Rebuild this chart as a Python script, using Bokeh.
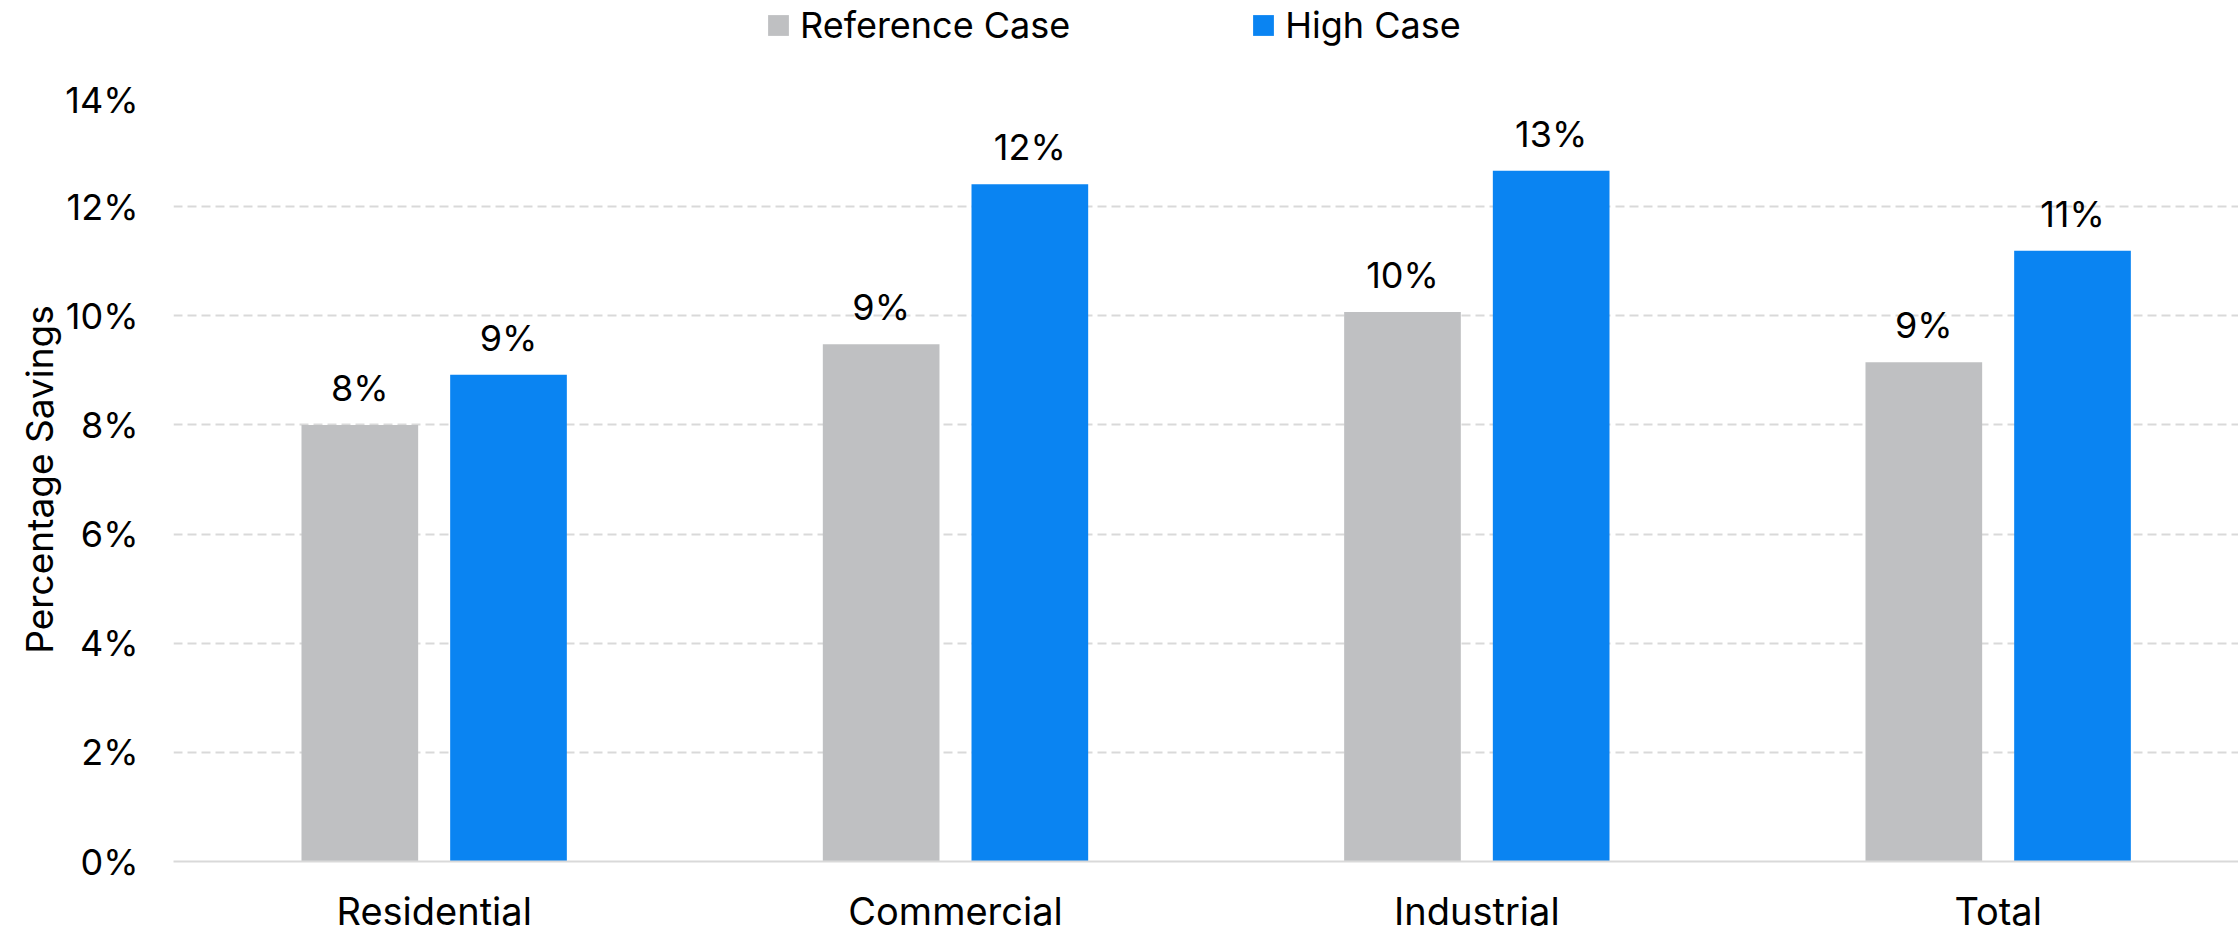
from bokeh.plotting import figure
from bokeh.layouts import column
from bokeh.models import (Range1d, FixedTicker, PrintfTickFormatter, ColumnDataSource,
                          Legend, LegendItem, LabelSet)
from bokeh.embed import file_html
from bokeh.resources import INLINE
from bokeh.core.properties import value

# ---- data ----
categories = ["Residential", "Commercial", "Industrial", "Total"]
series_names = ["Reference Case", "High Case"]
reference_case = [8.0, 9.48, 10.07, 9.15]
high_case = [8.92, 12.41, 12.66, 11.19]
y_ticks = [0, 2, 4, 6, 8, 10, 12, 14]

FONT = "Inter"
FS = "36px"
FS_CAT = "38px"
GRAY = "#BFC0C2"
BLUE = "#0A84F2"
GRID = "#D9D9D9"

centers = [i + 0.5 for i in range(len(categories))]
offset = 0.1426
bar_w = 0.2238

# ---- main chart ----
p = figure(width=2238, height=859, output_backend="svg", toolbar_location=None,
           x_range=Range1d(0, 3.961), y_range=Range1d(0, 14),
           min_border_left=173, min_border_right=0, min_border_top=20,
           min_border_bottom=69)
p.background_fill_color = "white"
p.border_fill_color = "white"
p.outline_line_color = None

src_ref = ColumnDataSource(dict(x=[c - offset for c in centers], top=reference_case,
                                label=[f"{round(v)}%" for v in reference_case]))
src_high = ColumnDataSource(dict(x=[c + offset for c in centers], top=high_case,
                                 label=[f"{round(v)}%" for v in high_case]))

r_ref = p.vbar(x="x", top="top", bottom=0, width=bar_w, source=src_ref,
               fill_color=GRAY, line_color=None)
r_high = p.vbar(x="x", top="top", bottom=0, width=bar_w, source=src_high,
                fill_color=BLUE, line_color=None)

for src in (src_ref, src_high):
    p.add_layout(LabelSet(x="x", y="top", text="label", source=src, y_offset=24,
                          text_align="center", text_baseline="alphabetic",
                          text_font=value(FONT), text_font_size=value(FS),
                          text_color="black"))

p.xaxis.ticker = FixedTicker(ticks=centers)
p.xaxis.major_label_overrides = {c: n for c, n in zip(centers, categories)}
p.xaxis.major_tick_line_color = None
p.xaxis.minor_tick_line_color = None
p.xaxis.major_tick_out = 0
p.xaxis.axis_line_color = GRID
p.xaxis.axis_line_width = 2
p.xaxis.major_label_standoff = 26
p.xaxis.major_label_text_font = FONT
p.xaxis.major_label_text_font_size = FS_CAT
p.xaxis.major_label_text_color = "black"

p.yaxis.ticker = FixedTicker(ticks=y_ticks)
p.yaxis.formatter = PrintfTickFormatter(format="%d%%")
p.yaxis.axis_line_color = None
p.yaxis.major_tick_line_color = None
p.yaxis.minor_tick_line_color = None
p.yaxis.major_tick_out = 0
p.yaxis.major_label_standoff = 35
p.yaxis.major_label_text_font = FONT
p.yaxis.major_label_text_font_size = FS
p.yaxis.major_label_text_color = "black"
p.yaxis.axis_label = "Percentage Savings"
p.yaxis.axis_label_text_font = FONT
p.yaxis.axis_label_text_font_size = "37px"
p.yaxis.axis_label_text_font_style = "normal"
p.yaxis.axis_label_text_color = "black"
p.yaxis.axis_label_standoff = 0

p.xgrid.grid_line_color = None
p.ygrid.grid_line_color = GRID
p.ygrid.grid_line_width = 2
p.ygrid.grid_line_dash = "9 5"

# ---- legend strip above the chart (its frame aligns with the chart's frame) ----
lf = figure(width=2238, height=77, output_backend="svg", toolbar_location=None,
            x_range=Range1d(0, 1), y_range=Range1d(0, 1),
            x_axis_type=None, y_axis_type=None,
            min_border_left=0, min_border_right=0, min_border_top=0, min_border_bottom=0)
lf.outline_line_color = None
lf.background_fill_color = "white"
lf.border_fill_color = "white"
# swatch renderers kept outside the visible range; only their legend glyphs show
lr_ref = lf.vbar(x=[10], top=[1], width=0.1, fill_color=GRAY, line_color=None)
lr_high = lf.vbar(x=[10], top=[1], width=0.1, fill_color=BLUE, line_color=None)

legend = Legend(items=[LegendItem(label=series_names[0], renderers=[lr_ref]),
                       LegendItem(label=series_names[1], renderers=[lr_high])],
                location=(592, 30), orientation="horizontal", glyph_width=26,
                glyph_height=26, label_standoff=9, spacing=180, padding=0, margin=0,
                border_line_color=None, background_fill_alpha=0, label_text_font=FONT,
                label_text_font_size=FS, label_text_color="black")
lf.add_layout(legend)

layout = column(lf, p, spacing=0)
open("out.html", "w").write(file_html(layout, INLINE))
